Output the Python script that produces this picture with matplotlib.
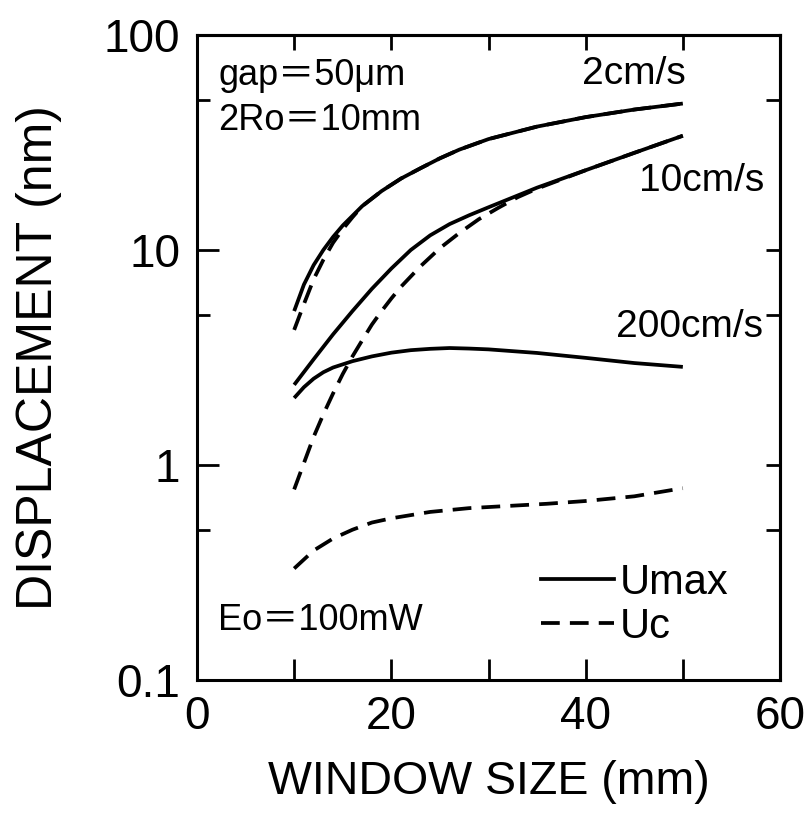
import matplotlib
matplotlib.use("Agg")
import matplotlib.pyplot as plt
from matplotlib.lines import Line2D

plt.rcParams['font.family'] = ['Liberation Sans', 'Noto Sans CJK JP', 'DejaVu Sans']

# ---- data ----
x_2_umax = [10, 11, 12, 13, 14, 15, 17, 19, 21, 23, 25, 27, 30, 35, 40, 45, 50]
y_2_umax = [5.2, 6.9, 8.5, 10.0, 11.5, 13.0, 16.0, 18.8, 21.5, 24.0, 26.7, 29.3, 32.8, 37.5, 41.5, 45.0, 48.0]

x_2_uc = [10, 11, 12, 13, 14, 15, 16, 17, 19, 21, 23, 25, 27, 30, 35, 40, 45, 50]
y_2_uc = [4.25, 5.6, 7.3, 9.0, 10.8, 12.5, 14.2, 16.0, 18.8, 21.5, 24.0, 26.7, 29.3, 32.8, 37.5, 41.5, 45.0, 48.0]

x_10_umax = [10, 12, 14, 16, 18, 20, 22, 24, 26, 28, 30, 35, 40, 45, 50]
y_10_umax = [2.36, 3.1, 4.05, 5.2, 6.6, 8.2, 10.0, 11.7, 13.2, 14.5, 15.8, 19.5, 23.5, 28.3, 34.0]

x_10_uc = [10, 11, 12, 13, 14, 15, 16, 17, 18, 19, 20, 21, 23, 25, 27, 29, 31, 33, 35, 40, 45, 50]
y_10_uc = [0.77, 1.02, 1.35, 1.72, 2.15, 2.65, 3.2, 3.8, 4.5, 5.2, 5.95, 6.75, 8.4, 10.2, 12.0, 13.9, 15.7, 17.6, 19.3, 23.5, 28.3, 34.0]

x_200_umax = [10, 11, 12, 13, 14, 16, 18, 20, 22, 24, 26, 28, 30, 35, 40, 45, 50]
y_200_umax = [2.05, 2.3, 2.52, 2.7, 2.84, 3.04, 3.2, 3.33, 3.42, 3.47, 3.5, 3.48, 3.45, 3.32, 3.15, 2.98, 2.86]

x_200_uc = [10, 12, 14, 16, 18, 20, 24, 28, 32, 36, 40, 45, 50]
y_200_uc = [0.33, 0.40, 0.455, 0.50, 0.54, 0.565, 0.605, 0.63, 0.645, 0.66, 0.68, 0.715, 0.78]

x_ticks = [0, 10, 20, 30, 40, 50, 60]
x_ticklabels = ['0', '', '20', '', '40', '', '60']
y_ticks = [0.1, 1, 10, 100]
y_ticklabels = ['0.1', '1', '10', '100']
y_minor = [0.5, 5, 50]

# ---- figure ----
fig = plt.figure(figsize=(8.09, 8.14), dpi=100)
ax = fig.add_axes([197/809, 1-680/814, (780-197)/809, (680-35)/814])

LW = 2.7
DASH = (5.0, 2.7)
ax.plot(x_2_umax, y_2_umax, color='black', lw=LW, solid_capstyle='butt')
ax.plot(x_2_uc, y_2_uc, color='black', lw=LW, dashes=DASH)
ax.plot(x_10_umax, y_10_umax, color='black', lw=LW, solid_capstyle='butt')
ax.plot(x_10_uc, y_10_uc, color='black', lw=LW, dashes=DASH)
ax.plot(x_200_umax, y_200_umax, color='black', lw=LW, solid_capstyle='butt')
ax.plot(x_200_uc, y_200_uc, color='black', lw=LW, dashes=DASH)

ax.set_yscale('log')
ax.set_xlim(0, 60)
ax.set_ylim(0.1, 100)

ax.set_xticks(x_ticks)
ax.set_xticklabels(x_ticklabels)
ax.set_yticks(y_ticks)
ax.set_yticklabels(y_ticklabels)
ax.set_yticks(y_minor, minor=True)
ax.yaxis.set_minor_formatter(plt.NullFormatter())
ax.set_xticks([], minor=True)

for s in ax.spines.values():
    s.set_linewidth(2.2)

ax.tick_params(axis='x', which='major', direction='in', length=15, width=2.0,
               labelsize=33, pad=11, top=False)
ax.tick_params(axis='y', which='major', direction='in', length=16, width=2.0,
               labelsize=33, pad=12, right=False)
ax.tick_params(axis='y', which='minor', direction='in', length=9, width=2.0, right=False)

# top and right ticks (shorter)
axt = ax.secondary_xaxis('top')
axt.set_xticks(x_ticks)
axt.tick_params(direction='in', length=11, width=2.0, labeltop=False)
axt.spines['top'].set_linewidth(2.2)
axr = ax.secondary_yaxis('right')
axr.set_yticks(y_ticks)
axr.set_yticks(y_minor, minor=True)
axr.tick_params(which='both', direction='in', length=10, width=2.0, labelright=False)
axr.spines['right'].set_linewidth(2.2)

ax.set_xlabel('WINDOW SIZE (mm)', fontsize=33.5, labelpad=15)
ax.set_ylabel('DISPLACEMENT (nm)', fontsize=36, labelpad=30)

TS = 26
LS = 28
ax.text(2.2, 65, 'gap＝50μm', fontsize=TS, ha='left', va='center')
ax.text(2.2, 40, '2Ro＝10mm', fontsize=TS, ha='left', va='center')
ax.text(2.2, 0.19, 'Eo＝100mW', fontsize=TS, ha='left', va='center')
ax.text(50.3, 66, '2cm/s', fontsize=LS, ha='right', va='center')
ax.text(58.4, 21, '10cm/s', fontsize=LS, ha='right', va='center')
ax.text(58.3, 4.4, '200cm/s', fontsize=LS, ha='right', va='center')

handles = [Line2D([], [], color='black', lw=LW),
           Line2D([], [], color='black', lw=LW, dashes=DASH)]
ax.legend(handles, ['Umax', 'Uc'], loc='upper left', bbox_to_anchor=(0.59, 0.182),
          frameon=False, fontsize=30, handlelength=1.75, handletextpad=0.15,
          labelspacing=0.1, borderpad=0, borderaxespad=0)

fig.savefig('out.png', dpi=100)
